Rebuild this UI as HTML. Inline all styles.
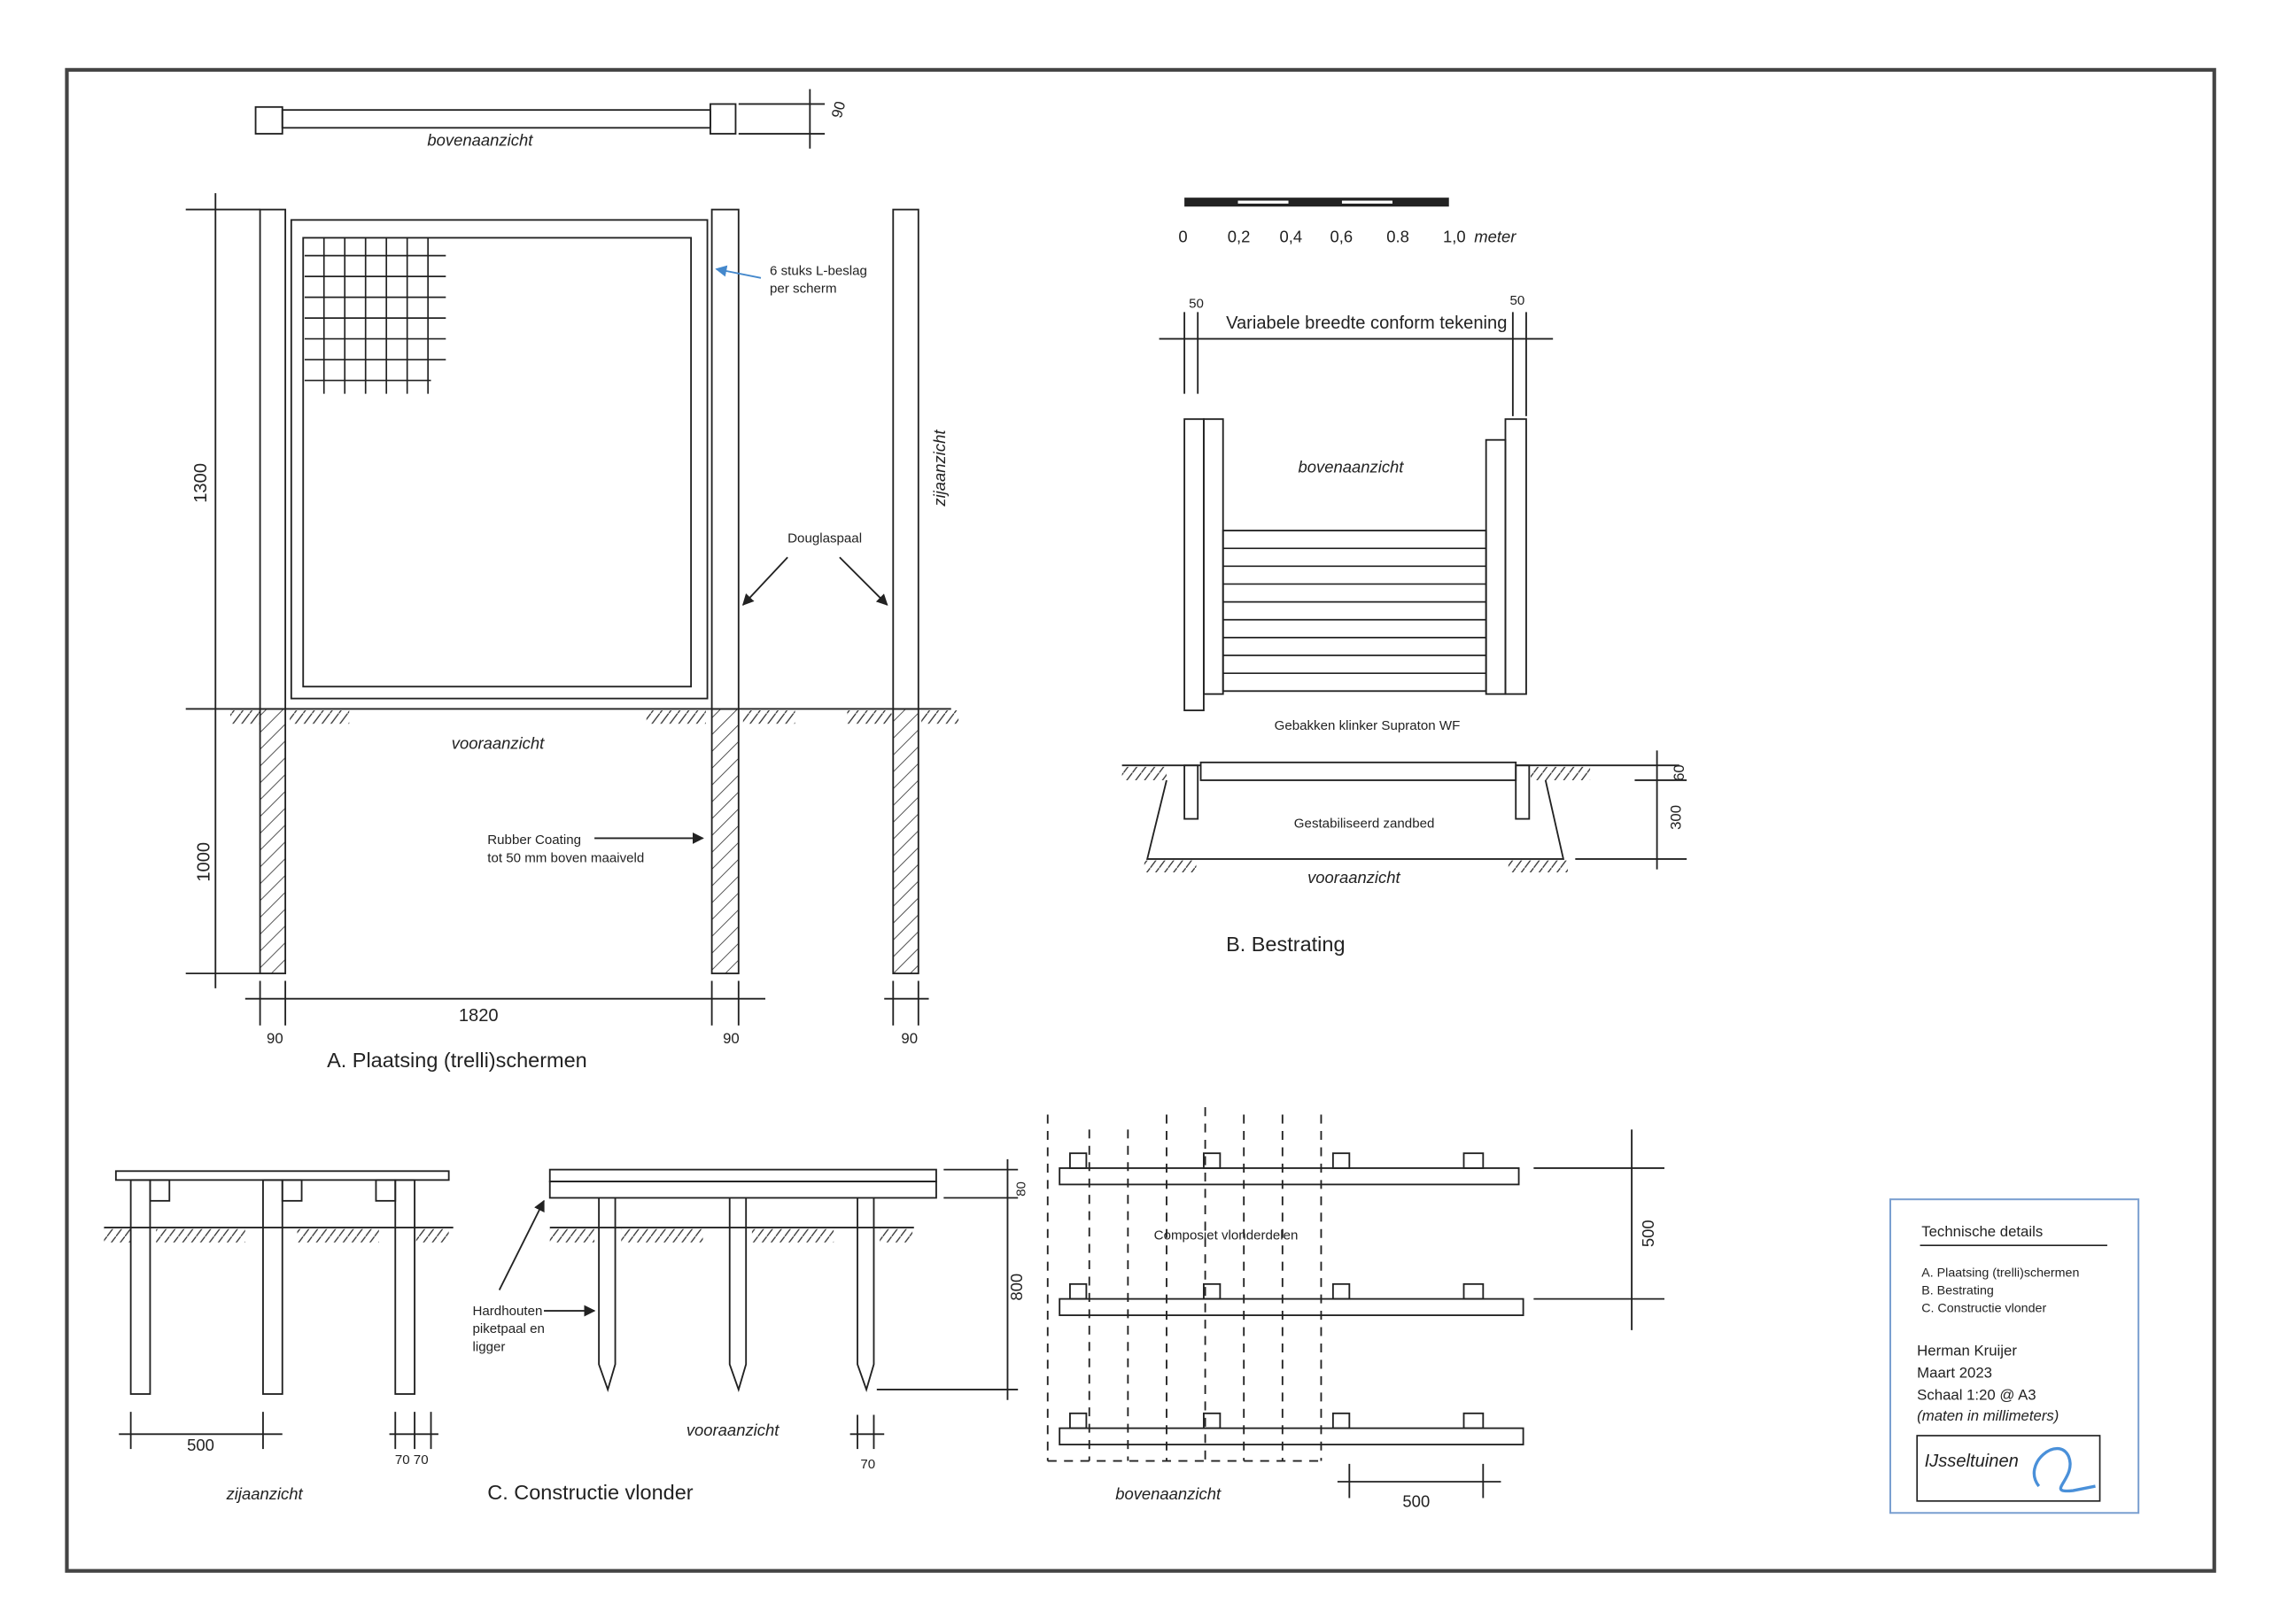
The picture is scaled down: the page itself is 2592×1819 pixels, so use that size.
<!DOCTYPE html>
<html><head><meta charset="utf-8"><style>
html,body{margin:0;padding:0;background:#fff;}
svg{display:block}
text{font-family:"Liberation Sans",sans-serif;fill:#222}
.i{font-style:italic}
</style></head><body>
<svg width="2592" height="1819" viewBox="0 0 1545 1084" preserveAspectRatio="none" xmlns="http://www.w3.org/2000/svg">
<defs>
<pattern id="h" width="8" height="8" patternUnits="userSpaceOnUse" patternTransform="rotate(45)"><line x1="0" y1="0" x2="0" y2="8" stroke="#333" stroke-width="1"/></pattern>
<marker id="a" viewBox="0 0 10 10" refX="9" refY="5" markerWidth="7" markerHeight="7" orient="auto"><path d="M0,0 L10,5 L0,10 z" fill="#222"/></marker>
<marker id="ab" viewBox="0 0 10 10" refX="9" refY="5" markerWidth="7" markerHeight="7" orient="auto"><path d="M0,0 L10,5 L0,10 z" fill="#48c"/></marker>
<pattern id="g" width="6" height="8" patternUnits="userSpaceOnUse"><line x1="0" y1="8" x2="6" y2="0" stroke="#333" stroke-width="0.8"/></pattern>
</defs>
<rect width="1545" height="1084" fill="#fff"/>
<rect x="45" y="47" width="1445" height="1010" fill="none" stroke="#444" stroke-width="2.5"/>
<!-- ground hatch marks -->
<g fill="url(#g)">
<rect x="155" y="478" width="20" height="9"/><rect x="195" y="478" width="40" height="9"/><rect x="435" y="478" width="40" height="9"/><rect x="500" y="478" width="35" height="9"/><rect x="570" y="478" width="30" height="9"/><rect x="620" y="478" width="25" height="9"/>
<rect x="755" y="516" width="30" height="9"/><rect x="1030" y="516" width="40" height="9"/><rect x="770" y="579" width="35" height="8"/><rect x="1015" y="579" width="40" height="8"/>
<rect x="70" y="827" width="18" height="9"/><rect x="105" y="827" width="60" height="9"/><rect x="200" y="827" width="55" height="9"/><rect x="280" y="827" width="22" height="9"/>
<rect x="370" y="827" width="30" height="9"/><rect x="418" y="827" width="55" height="9"/><rect x="506" y="827" width="55" height="9"/><rect x="592" y="827" width="22" height="9"/>
</g>
<g stroke="#222" fill="none" stroke-width="1.1">
<rect x="172" y="72" width="18" height="18"/><rect x="190" y="74" width="288" height="12"/><rect x="478" y="70" width="17" height="20"/>
<line x1="497" y1="70" x2="555" y2="70"/><line x1="497" y1="90" x2="555" y2="90"/><line x1="545" y1="60" x2="545" y2="100"/>
<rect x="175" y="141" width="17" height="336"/><rect x="175" y="477" width="17" height="178" fill="url(#h)"/>
<rect x="479" y="141" width="18" height="336"/><rect x="479" y="477" width="18" height="178" fill="url(#h)"/>
<rect x="601" y="141" width="17" height="336"/><rect x="601" y="477" width="17" height="178" fill="url(#h)"/>
<rect x="196" y="148" width="280" height="322"/><rect x="204" y="160" width="261" height="302"/>
<line x1="155" y1="477" x2="640" y2="477"/>
<line x1="145" y1="130" x2="145" y2="665"/><line x1="125" y1="141" x2="175" y2="141"/><line x1="125" y1="477" x2="175" y2="477"/><line x1="125" y1="655" x2="175" y2="655"/>
<line x1="165" y1="672" x2="515" y2="672"/><line x1="192" y1="660" x2="192" y2="690"/><line x1="175" y1="660" x2="175" y2="690"/><line x1="479" y1="660" x2="479" y2="690"/><line x1="497" y1="660" x2="497" y2="690"/>
<line x1="601" y1="660" x2="601" y2="690"/><line x1="618" y1="660" x2="618" y2="690"/><line x1="595" y1="672" x2="625" y2="672"/>
<line x1="530" y1="375" x2="500" y2="407" marker-end="url(#a)"/><line x1="565" y1="375" x2="597" y2="407" marker-end="url(#a)"/>
<line x1="400" y1="564" x2="473" y2="564" marker-end="url(#a)"/>
<line x1="512" y1="187" x2="482" y2="181" stroke="#48c" marker-end="url(#ab)"/>
</g>
<g stroke="#222" stroke-width="1">
<line x1="205" y1="172" x2="300" y2="172"/><line x1="205" y1="186" x2="300" y2="186"/><line x1="205" y1="200" x2="300" y2="200"/><line x1="205" y1="214" x2="300" y2="214"/><line x1="205" y1="228" x2="300" y2="228"/><line x1="205" y1="242" x2="300" y2="242"/><line x1="205" y1="256" x2="290" y2="256"/>
<line x1="218" y1="160" x2="218" y2="265"/><line x1="232" y1="160" x2="232" y2="265"/><line x1="246" y1="160" x2="246" y2="265"/><line x1="260" y1="160" x2="260" y2="265"/><line x1="274" y1="160" x2="274" y2="265"/><line x1="288" y1="160" x2="288" y2="265"/>
</g>
<text x="323" y="98" font-size="11" class="i" text-anchor="middle">bovenaanzicht</text>
<text x="566" y="80" font-size="10" transform="rotate(-75 566 80)">90</text>
<text x="518" y="185" font-size="9">6 stuks L-beslag</text><text x="518" y="197" font-size="9">per scherm</text>
<text x="530" y="365" font-size="9">Douglaspaal</text>
<text x="636" y="315" font-size="11" class="i" transform="rotate(-90 636 315)" text-anchor="middle">zijaanzicht</text>
<text x="335" y="504" font-size="11" class="i" text-anchor="middle">vooraanzicht</text>
<text x="328" y="568" font-size="9">Rubber Coating</text><text x="328" y="580" font-size="9">tot 50 mm boven maaiveld</text>
<text x="139" y="325" font-size="12" transform="rotate(-90 139 325)" text-anchor="middle">1300</text>
<text x="141" y="580" font-size="12" transform="rotate(-90 141 580)" text-anchor="middle">1000</text>
<text x="322" y="687" font-size="12" text-anchor="middle">1820</text>
<text x="185" y="702" font-size="10" text-anchor="middle">90</text><text x="492" y="702" font-size="10" text-anchor="middle">90</text><text x="612" y="702" font-size="10" text-anchor="middle">90</text>
<text x="220" y="718" font-size="14">A. Plaatsing (trelli)schermen</text>
<rect x="797" y="133" width="178" height="6" fill="#222"/>
<rect x="833" y="135" width="34" height="2" fill="#fff"/><rect x="903" y="135" width="34" height="2" fill="#fff"/>
<g font-size="11"><text x="793" y="163">0</text><text x="826" y="163">0,2</text><text x="861" y="163">0,4</text><text x="895" y="163">0,6</text><text x="933" y="163">0.8</text><text x="971" y="163">1,0</text><text x="992" y="163" class="i">meter</text></g>
<g stroke="#222" fill="none" stroke-width="1.1">
<line x1="780" y1="228" x2="1045" y2="228"/><line x1="797" y1="210" x2="797" y2="265"/><line x1="806" y1="210" x2="806" y2="265"/><line x1="1018" y1="210" x2="1018" y2="280"/><line x1="1027" y1="210" x2="1027" y2="280"/>
<rect x="797" y="282" width="13" height="196"/><rect x="810" y="282" width="13" height="185"/>
<rect x="1000" y="296" width="13" height="171"/><rect x="1013" y="282" width="14" height="185"/>
<rect x="823" y="357" width="177" height="108"/>
</g>
<g stroke="#222" stroke-width="1">
<line x1="823" y1="369" x2="1000" y2="369"/><line x1="823" y1="381" x2="1000" y2="381"/><line x1="823" y1="393" x2="1000" y2="393"/><line x1="823" y1="405" x2="1000" y2="405"/><line x1="823" y1="417" x2="1000" y2="417"/><line x1="823" y1="429" x2="1000" y2="429"/><line x1="823" y1="441" x2="1000" y2="441"/><line x1="823" y1="453" x2="1000" y2="453"/>
</g>
<text x="800" y="207" font-size="9">50</text><text x="1016" y="205" font-size="9">50</text>
<text x="825" y="221" font-size="12">Variabele breedte conform tekening</text>
<text x="909" y="318" font-size="11" class="i" text-anchor="middle">bovenaanzicht</text>
<text x="920" y="491" font-size="9" text-anchor="middle">Gebakken  klinker Supraton WF</text>
<g stroke="#222" fill="none" stroke-width="1.1">
<line x1="755" y1="515" x2="808" y2="515"/><line x1="1020" y1="515" x2="1130" y2="515"/>
<rect x="808" y="513" width="212" height="12"/>
<rect x="797" y="515" width="9" height="36"/><rect x="1020" y="515" width="9" height="36"/>
<polyline points="785,525 772,578 1052,578 1040,525"/>
<line x1="1115" y1="505" x2="1115" y2="585"/><line x1="1100" y1="525" x2="1135" y2="525"/><line x1="1060" y1="578" x2="1135" y2="578"/>
</g>
<text x="918" y="557" font-size="9" text-anchor="middle">Gestabiliseerd zandbed</text>
<text x="911" y="594" font-size="11" class="i" text-anchor="middle">vooraanzicht</text>
<text x="825" y="640" font-size="14">B. Bestrating</text>
<text x="1131" y="550" font-size="10" transform="rotate(-90 1131 550)" text-anchor="middle">300</text>
<text x="1133" y="520" font-size="10" transform="rotate(-90 1133 520)" text-anchor="middle">60</text>
<g stroke="#222" fill="none" stroke-width="1.1">
<rect x="78" y="788" width="224" height="6"/>
<rect x="88" y="794" width="13" height="144"/><rect x="177" y="794" width="13" height="144"/><rect x="266" y="794" width="13" height="144"/>
<rect x="101" y="794" width="13" height="14"/><rect x="190" y="794" width="13" height="14"/><rect x="253" y="794" width="13" height="14"/>
<line x1="70" y1="826" x2="305" y2="826"/>
<line x1="80" y1="965" x2="190" y2="965"/><line x1="88" y1="950" x2="88" y2="975"/><line x1="177" y1="950" x2="177" y2="975"/>
<line x1="262" y1="965" x2="295" y2="965"/><line x1="266" y1="950" x2="266" y2="975"/><line x1="279" y1="950" x2="279" y2="975"/><line x1="290" y1="950" x2="290" y2="975"/>
<rect x="370" y="787" width="260" height="8"/><rect x="370" y="795" width="260" height="11"/>
<line x1="370" y1="826" x2="615" y2="826"/>
<polyline points="403,806 403,918 409,935 414,918 414,806"/>
<polyline points="491,806 491,918 497,935 502,918 502,806"/>
<polyline points="577,806 577,918 583,935 588,918 588,806"/>
<line x1="635" y1="787" x2="685" y2="787"/><line x1="635" y1="806" x2="685" y2="806"/><line x1="590" y1="935" x2="685" y2="935"/><line x1="678" y1="780" x2="678" y2="942"/>
<line x1="336" y1="868" x2="366" y2="808" marker-end="url(#a)"/><line x1="366" y1="882" x2="400" y2="882" marker-end="url(#a)"/>
<line x1="572" y1="965" x2="595" y2="965"/><line x1="577" y1="952" x2="577" y2="975"/><line x1="588" y1="952" x2="588" y2="975"/>
<rect x="713" y="786" width="309" height="11"/><rect x="713" y="874" width="312" height="11"/><rect x="713" y="961" width="312" height="11"/>
<g><rect x="720" y="776" width="11" height="10"/><rect x="810" y="776" width="11" height="10"/><rect x="897" y="776" width="11" height="10"/><rect x="985" y="776" width="13" height="10"/>
<rect x="720" y="864" width="11" height="10"/><rect x="810" y="864" width="11" height="10"/><rect x="897" y="864" width="11" height="10"/><rect x="985" y="864" width="13" height="10"/>
<rect x="720" y="951" width="11" height="10"/><rect x="810" y="951" width="11" height="10"/><rect x="897" y="951" width="11" height="10"/><rect x="985" y="951" width="13" height="10"/></g>
<g stroke-dasharray="6,5">
<line x1="705" y1="750" x2="705" y2="983"/><line x1="733" y1="760" x2="733" y2="983"/><line x1="759" y1="760" x2="759" y2="983"/><line x1="785" y1="750" x2="785" y2="983"/><line x1="811" y1="745" x2="811" y2="983"/><line x1="837" y1="750" x2="837" y2="983"/><line x1="863" y1="750" x2="863" y2="983"/><line x1="889" y1="750" x2="889" y2="983"/>
<line x1="705" y1="983" x2="889" y2="983"/></g>
<line x1="1032" y1="786" x2="1120" y2="786"/><line x1="1032" y1="874" x2="1120" y2="874"/><line x1="1098" y1="760" x2="1098" y2="895"/>
<line x1="900" y1="997" x2="1010" y2="997"/><line x1="908" y1="985" x2="908" y2="1008"/><line x1="998" y1="985" x2="998" y2="1008"/>
</g>
<text x="135" y="976" font-size="11" text-anchor="middle">500</text>
<text x="277" y="985" font-size="9" text-anchor="middle">70 70</text>
<text x="178" y="1009" font-size="11" class="i" text-anchor="middle">zijaanzicht</text>
<text x="318" y="885" font-size="9">Hardhouten</text><text x="318" y="897" font-size="9">piketpaal en</text><text x="318" y="909" font-size="9">ligger</text>
<text x="493" y="966" font-size="11" class="i" text-anchor="middle">vooraanzicht</text>
<text x="584" y="988" font-size="9" text-anchor="middle">70</text>
<text x="688" y="866" font-size="11" transform="rotate(-90 688 866)" text-anchor="middle">800</text>
<text x="690" y="800" font-size="9" transform="rotate(-90 690 800)" text-anchor="middle">80</text>
<text x="328" y="1009" font-size="14">C. Constructie vlonder</text>
<text x="825" y="834" font-size="9" text-anchor="middle">Composiet vlonderdelen</text>
<text x="1113" y="830" font-size="11" transform="rotate(-90 1113 830)" text-anchor="middle">500</text>
<text x="953" y="1014" font-size="11" text-anchor="middle">500</text>
<text x="786" y="1009" font-size="11" class="i" text-anchor="middle">bovenaanzicht</text>
<rect x="1272" y="807" width="167" height="211" fill="none" stroke="#7a9fd0" stroke-width="1.2"/>
<text x="1293" y="832" font-size="10">Technische details</text>
<line x1="1292" y1="838" x2="1418" y2="838" stroke="#222"/>
<g font-size="8.5"><text x="1293" y="859">A.   Plaatsing (trelli)schermen</text><text x="1293" y="871">B.   Bestrating</text><text x="1293" y="883">C.   Constructie vlonder</text></g>
<g font-size="10"><text x="1290" y="912">Herman Kruijer</text><text x="1290" y="927">Maart 2023</text><text x="1290" y="942">Schaal 1:20 @ A3</text><text x="1290" y="956" class="i">(maten in millimeters)</text></g>
<rect x="1290" y="966" width="123" height="44" fill="none" stroke="#222"/>
<text x="1295" y="987" font-size="12" class="i" font-family="Liberation Serif">IJsseltuinen</text>
<path d="M1372,1000 C1360,985 1385,965 1392,980 C1398,995 1375,1005 1395,1003 L1410,1000" fill="none" stroke="#4a90d9" stroke-width="2"/>
</svg>
</body></html>
